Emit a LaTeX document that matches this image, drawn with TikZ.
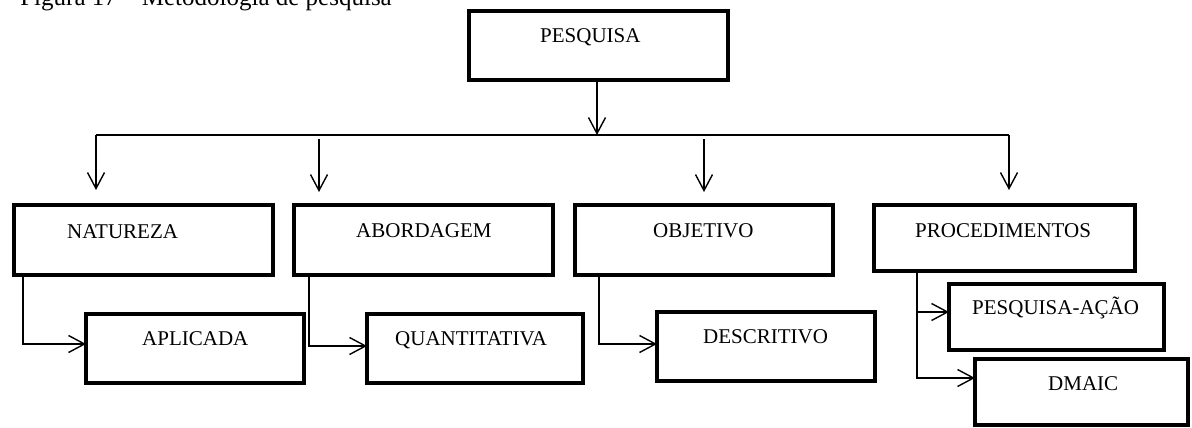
\documentclass[tikz,border=0pt]{standalone}
\usepackage{fontspec}
\setmainfont{Liberation Serif}
\usetikzlibrary{arrows.meta}
\begin{document}
\begin{tikzpicture}[x=1pt,y=-1pt,
  box/.style={draw=black,line width=4pt,inner sep=0pt,outer sep=0pt,fill=white},
  lbl/.style={anchor=base west,inner sep=0pt,font=\fontsize{21}{24}\selectfont},
  conn/.style={draw=black,line width=1.4pt},
  arr/.style={conn,-{Straight Barb[length=16pt,width=17pt]}}]
\useasboundingbox (0,0) rectangle (1192,428);
% caption (clipped at the top, as in the reference)
\node[anchor=base east,inner sep=0pt,font=\fontsize{25}{28}\selectfont] (cap) at (392,6) {Figura 17 -- Metodologia de pesquisa};
% boxes
\node[box,minimum width=259pt,minimum height=69pt] (pesq) at (598.5,45.5) {};
\node[box,minimum width=259pt,minimum height=70pt] (nat) at (143.5,240) {};
\node[box,minimum width=259pt,minimum height=70pt] (abo) at (423.5,240) {};
\node[box,minimum width=258pt,minimum height=70pt] (obj) at (704,240) {};
\node[box,minimum width=261pt,minimum height=66pt] (proc) at (1004.5,238) {};
\node[box,minimum width=218pt,minimum height=69pt] (apl) at (195,348.5) {};
\node[box,minimum width=216pt,minimum height=69pt] (quan) at (475,348.5) {};
\node[box,minimum width=218pt,minimum height=69pt] (desc) at (766,346.5) {};
\node[box,minimum width=215pt,minimum height=66pt] (pa) at (1056.5,317) {};
\node[box,minimum width=213pt,minimum height=66pt] (dm) at (1081.5,392) {};
% labels
\node[lbl] (tpesq) at (540,43) {PESQUISA};
\node[lbl] (tnat) at (67,238) {NATUREZA};
\node[lbl] (tabo) at (356,237) {ABORDAGEM};
\node[lbl] (tobj) at (653,237) {OBJETIVO};
\node[lbl] (tproc) at (915,237) {PROCEDIMENTOS};
\node[lbl] (tapl) at (142,345) {APLICADA};
\node[lbl] (tquan) at (395,345) {QUANTITATIVA};
\node[lbl] (tdesc) at (703,343) {DESCRITIVO};
\node[lbl] (tpa) at (972,314) {PESQUISA-AÇÃO};
\node[lbl] (tdm) at (1048,390) {DMAIC};
% bus
\coordinate (busc) at (597,135);
\coordinate (busl) at (96,135);
\coordinate (busr) at (1009,135);
\coordinate (s2) at (319,139);
\coordinate (s3) at (704,139);
\coordinate (e1) at (96,190);
\coordinate (e2) at (319,192);
\coordinate (e3) at (704,192);
\coordinate (e4) at (1009,190);
\draw[arr] (pesq.south -| busc) -- (busc);
\draw[conn] (busl) -- (busr);
\draw[arr] (busl) -- (e1);
\draw[arr] (s2) -- (e2);
\draw[arr] (s3) -- (e3);
\draw[arr] (busr) -- (e4);
% side connectors
\draw[arr] ([xshift=9pt]nat.south west) |- ([yshift=4.5pt]apl.west);
\draw[arr] ([xshift=15pt]abo.south west) |- ([yshift=2.5pt]quan.west);
\draw[arr] ([xshift=24pt]obj.south west) |- ([yshift=2.5pt]desc.west);
\draw[arr] ([xshift=43pt]proc.south west) |- ([yshift=5pt]pa.west);
\draw[arr] ([xshift=43pt]proc.south west) |- ([yshift=14pt]dm.west);
\end{tikzpicture}
\end{document}
